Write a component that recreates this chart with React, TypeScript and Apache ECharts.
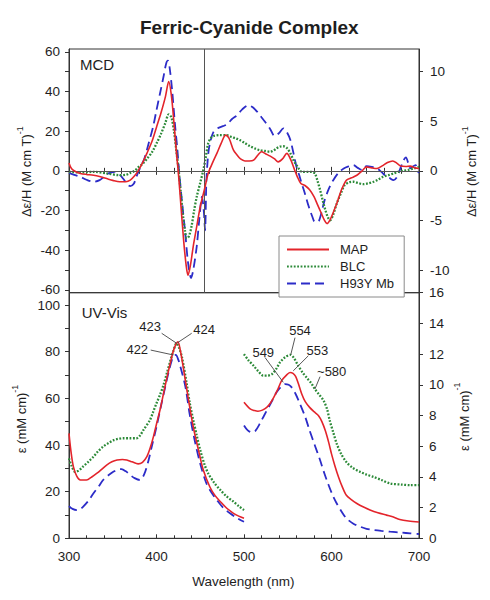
import React, { useEffect, useRef } from "react";
import * as echarts from "echarts";

// ---------- DATA ----------
const NAMES = ["MAP", "BLC", "H93Y Mb"];
const COLORS = ["#e3242b", "#2c8a38", "#2c2cc8"];

// MCD (left axis, Δε/H)
const MCD_MAP: [number, number][] = [
  [300, 4], [303, 1], [308, -0.5], [313, -1.3], [320, -1.8], [328, -2.2], [336, -3], [343, -3.9],
  [350, -4.8], [358, -5.5], [365, -5.5], [370, -4.7], [375, -2.5], [379, 0], [384, 4], [389, 8.8],
  [395, 15], [400, 22], [405, 29], [410, 37], [414, 45], [417, 38], [420, 24], [423, 8], [425, -1],
  [428, -18], [431, -35], [434, -48], [436, -52.6], [439, -47], [442, -38], [446, -28], [450, -18],
  [455, -9], [459, -1.3], [464, 4], [469, 8.8], [474, 14], [479, 18], [483, 16.3], [488, 10.4],
  [492, 8], [496, 6], [501, 5], [506, 5], [511, 5.4], [516, 8], [520, 9.6], [525, 8.5], [530, 7.4],
  [535, 6], [539, 4.5], [544, 6], [549, 8.8], [553, 6], [557, 1.5], [561, -3], [565, -6.4],
  [570, -7.5], [575, -9.5], [580, -13], [584, -17], [588, -21], [592, -25], [595, -26.6],
  [598, -25], [602, -21], [606, -16.5], [611, -10], [617, -4.7], [623, -3.5], [629, -2.2],
  [635, 0], [640, 2], [646, 1.5], [652, 1.2], [658, 2.5], [664, 4.2], [670, 5], [675, 3.8],
  [679, 2.4], [685, 2.2], [690, 2.4], [695, 1.6], [700, 1.2],
];
const MCD_BLC: [number, number][] = [
  [300, -0.5], [313, -0.8], [328, -0.5], [343, -1.3], [358, -2.2], [365, -2], [370, -1], [375, 0],
  [379, 1.7], [384, 3.5], [389, 6], [395, 9.5], [400, 13.8], [405, 18.5], [410, 24], [414, 28.5],
  [417, 27], [420, 20], [423, 9], [425, 1.7], [428, -12], [430, -21.5], [432.5, -30], [434.5, -34],
  [437, -33], [440, -28], [443, -20], [446, -13], [450, -6], [453.5, 0.4], [456, 6], [459, 13.8],
  [462, 16.5], [465, 17.5], [472, 18], [480, 18], [486, 17], [491, 16.3], [495, 15.5], [501, 14],
  [507, 12.4], [513, 11.2], [518, 10.4], [524, 10], [530, 9.6], [534, 10.3], [537, 11.3],
  [541, 12.2], [545, 12.4], [549, 11.5], [553, 8.8], [557, 5], [560, 2.9], [563, 0.8], [566, -0.5],
  [573, -0.5], [578, -0.6], [581, -1.3], [584, -5], [587, -9.7], [590, -15], [593, -19.8],
  [596, -23.5], [598.5, -24.9], [602, -22], [606, -16.5], [611, -11], [615, -7.2], [620, -5.8],
  [625, -5.5], [631, -6.2], [636, -6.7], [642, -6.3], [648, -5.5], [653, -4.5], [659, -3],
  [665, -2.2], [671, -1.3], [676, -0.5], [682, 0], [688, 0.5], [694, 1.2], [700, 2],
];
const MCD_H93Y: [number, number][] = [
  [300, -1], [306, -2], [313, -3], [320, -4.5], [328, -5.5], [335, -4.7], [340, -3], [345, -1.3],
  [352, -0.5], [357, -1.5], [362, -4], [367, -7], [370, -7.7], [374, -6.5], [377, -3], [381, 1.2],
  [386, 6], [391, 13.8], [396, 22], [400, 30.6], [404, 39], [408, 47.4], [411, 54], [413, 55.5],
  [415, 52], [418, 40], [421, 24], [424, 10], [426, -1.3], [429, -15], [433, -32], [436, -46],
  [439.5, -54], [442, -50], [446, -38], [449, -24], [452, -13], [454, -20], [455.5, -30], [457, -5],
  [459, 8], [461, 13.8], [465, 19.5], [470, 21.5], [476, 22.5], [481, 23.5], [486, 26], [492, 28],
  [498, 31], [505, 33], [510, 32], [515, 29.8], [520, 27], [524, 24.7], [530, 21], [535, 17.5],
  [540, 19], [545, 21.4], [549, 19.5], [553, 15.5], [557, 8], [560, 2], [563, -2], [566, -6.4],
  [570, -12], [574, -18], [578, -23], [581, -25.7], [585, -25.5], [588, -22], [592, -15],
  [597, -9], [602, -4.7], [608, -1], [614, 1.2], [620, 2.3], [625, 2.9], [630, 1.5], [635, 0.4],
  [640, 2.4], [646, 2], [652, 1.2], [657, -0.5], [661, -2.2], [666, -3.5], [671, -4.7], [675, -3],
  [678, 0.4], [682, 5], [685, 6.8], [688, 3.5], [690, 1.2], [693, 2.2], [696, 2.9], [699, -0.5],
  [700, -1],
];

// UV-Vis 300-500 nm (left axis, ε)
const UV_MAP: [number, number][] = [
  [300, 45], [302, 38], [305, 30.7], [309, 26.5], [313, 25], [320, 25], [326, 26.3], [332, 27.9],
  [338, 29.8], [343, 31.4], [349, 32.8], [355, 33.6], [361, 33.8], [366, 33.6], [372, 32.8],
  [379, 31.9], [384, 32.6], [389, 35], [393, 39], [396.5, 43.6], [400, 49], [404, 55], [408, 62],
  [412, 69], [416, 75.5], [419, 80], [422, 83], [424.5, 84.3], [427, 81], [430.5, 73.5],
  [436, 60.7], [442, 47.8], [448, 37.8], [453.5, 29.3], [461, 22], [467, 18.3], [473, 15.7],
  [480, 13], [488, 10.7], [494, 9.5], [500, 8.6],
];
const UV_BLC: [number, number][] = [
  [300, 34.3], [303, 31], [307, 28.5], [311, 29], [316, 30.7], [322, 32.8], [328, 35], [333, 37.2],
  [339, 39.3], [345, 40.8], [351, 42.1], [356, 42.6], [362, 42.9], [370, 42.9], [377, 42.9],
  [381, 44], [385, 46.4], [392.5, 50.7], [396, 54], [400, 57.9], [404, 61.5], [408, 65.7],
  [412, 71], [415.5, 75.7], [419, 80], [423, 83.6], [426, 81.5], [429, 77.8], [434.5, 66.4],
  [438, 58], [442, 50.7], [446, 44], [450, 37.8], [455, 31.5], [459, 27.9], [466, 23.8],
  [473, 20.7], [480, 18], [488, 15.7], [494, 13.8], [500, 12.1],
];
const UV_H93Y: [number, number][] = [
  [300, 13.8], [304, 12.6], [309, 12.1], [313, 12.6], [316, 13.5], [322, 16], [328, 19.3],
  [334, 22.3], [339, 25], [345, 27], [351, 28.6], [356, 29.5], [360, 29.7], [365, 28.7],
  [370, 27.1], [375, 25.8], [381, 25], [386, 27.5], [391, 33.6], [395, 40], [400, 47.8],
  [405, 56.5], [410, 65], [414, 71.5], [417.5, 76.4], [420, 78.4], [422, 78.6], [425, 76.5],
  [427, 74], [433, 65], [438, 53], [444, 41.4], [450, 32], [457, 23.6], [463, 19.5], [469, 16.4],
  [476, 13.2], [484, 10.7], [492, 8.7], [500, 7.1],
];

// UV-Vis 500-700 nm (right axis, ε)
const VIS_MAP: [number, number][] = [
  [500, 8.86], [507, 8.43], [512, 8.32], [516, 8.28], [521, 8.35], [526, 8.53], [530, 8.8],
  [534, 9.18], [539, 9.75], [543, 10.27], [548, 10.6], [552.6, 10.8], [556, 10.75], [559, 10.55],
  [562, 10.1], [566, 9.4], [570, 8.9], [575, 8.53], [580, 8.25], [585, 8.0], [589, 7.6], [593, 7.0],
  [597, 6.2], [600, 5.5], [604, 4.7], [608, 4.0], [612, 3.4], [617, 2.8], [623, 2.5], [629, 2.27],
  [636, 2.05], [644, 1.84], [653, 1.66], [663, 1.51], [670, 1.4], [678, 1.23], [688, 1.13],
  [700, 1.06],
];
const VIS_BLC: [number, number][] = [
  [500, 12.0], [505, 11.6], [511, 11.24], [516, 10.9], [522, 10.6], [527, 10.6], [532, 10.7],
  [537, 11.05], [541, 11.45], [547, 11.8], [553, 11.95], [557, 11.75], [562, 11.24], [567, 10.8],
  [572, 10.44], [577, 10.1], [581, 9.73], [586, 9.35], [591, 8.97], [595, 8.4], [598, 7.67],
  [602, 6.9], [606, 6.16], [611, 5.5], [617, 4.97], [624, 4.6], [633, 4.32], [640, 4.15],
  [648, 4.0], [657, 3.8], [667, 3.57], [680, 3.5], [690, 3.46], [700, 3.46],
];
const VIS_H93Y: [number, number][] = [
  [500, 7.35], [504, 7.05], [509, 6.9], [513, 7.0], [518, 7.46], [523, 8.0], [528, 8.53],
  [533, 9.05], [537, 9.5], [542, 9.85], [547, 10.05], [551, 10.0], [554.5, 9.83], [559, 9.4],
  [564, 8.75], [570, 7.9], [575, 7.02], [581, 6.05], [587, 5.08], [592, 4.2], [596, 3.57],
  [601, 2.85], [606, 2.27], [612, 1.7], [617, 1.3], [625, 0.95], [633, 0.75], [640, 0.62],
  [648, 0.54], [657, 0.48], [667, 0.43], [680, 0.37], [690, 0.32], [700, 0.28],
];

// Axis extents and tick labels
const X_RANGE = [300, 700];
const MCD_LEFT_RANGE = [-61.4, 61.4];
const MCD_RIGHT_RANGE = [-12.28, 12.28];
const UV_LEFT_RANGE = [0, 105.3];
const UV_RIGHT_RANGE = [0, 16];
const MCD_LEFT_LABELS = [-60, -40, -20, 0, 20, 40, 60];
const MCD_LEFT_TICKS = [-60, -50, -40, -30, -20, -10, 0, 10, 20, 30, 40, 50, 60];
const MCD_RIGHT_LABELS = [-10, -5, 0, 5, 10];
const UV_LEFT_LABELS = [0, 20, 40, 60, 80, 100];
const UV_LEFT_TICKS = [0, 10, 20, 30, 40, 50, 60, 70, 80, 90, 100];
const UV_RIGHT_LABELS = [0, 2, 4, 6, 8, 10, 12, 14, 16];
const ZERO_LINE = 0;
const DIVIDER_WL = 455;

// Peak callouts: text position and leader line in data coordinates
const CALLOUTS = [
  { text: "423", axis: "left", tx: 392.6, ty: 90.7, x1: 405.9, y1: 87.9, x2: 423.1, y2: 83.6 },
  { text: "424", axis: "left", tx: 454.3, ty: 89.6, x1: 440.2, y1: 87.9, x2: 423.8, y2: 83.8 },
  { text: "422", axis: "left", tx: 378, ty: 81, x1: 393.4, y1: 80.7, x2: 419.2, y2: 78.6 },
  { text: "554", axis: "right", tx: 564, ty: 13.55, x1: 558.3, y1: 13.07, x2: 553.4, y2: 11.95 },
  { text: "549", axis: "right", tx: 522, ty: 12.1, x1: 524, y1: 11.78, x2: 544.9, y2: 10.16 },
  { text: "553", axis: "right", tx: 583.8, ty: 12.21, x1: 573.5, y1: 11.89, x2: 556.3, y2: 10.91 },
  { text: "~580", axis: "right", tx: 600.2, ty: 10.85, x1: 586.9, y1: 10.53, x2: 581.1, y2: 9.73 },
];

// ---------- CHART ----------
const FONT = "'Liberation Sans', Arial, Helvetica, sans-serif";
const TXT = "#1e1e1e";
const AX = "#333";

const LINE_STYLES: any[] = [
  { color: COLORS[0], width: 1.6, type: "solid" },
  { color: COLORS[1], width: 2.3, type: [1.8, 1.6], cap: "butt" },
  { color: COLORS[2], width: 1.8, type: [9, 5], cap: "butt" },
];

function mkSeries(name: string, idx: number, data: [number, number][], xi: number, yi: number, extra: any = {}) {
  return {
    type: "line",
    name,
    data,
    xAxisIndex: xi,
    yAxisIndex: yi,
    smooth: 0.3,
    symbol: "none",
    showSymbol: false,
    lineStyle: LINE_STYLES[idx],
    itemStyle: { color: COLORS[idx] },
    z: 3 + (2 - idx),
    ...extra,
  };
}

function xAxisBase(gridIndex: number, position: string, showLabel: boolean) {
  return {
    type: "value",
    gridIndex,
    position,
    min: X_RANGE[0],
    max: X_RANGE[1],
    interval: 100,
    axisLine: { show: true, lineStyle: { color: AX, width: 1 } },
    axisTick: { show: true, inside: true, length: 4, lineStyle: { color: AX } },
    minorTick: { show: true, splitNumber: 5, length: 3, lineStyle: { color: AX } },
    splitLine: { show: false },
    axisLabel: { show: showLabel, fontSize: 13.5, color: TXT, fontFamily: FONT, margin: 11 },
  };
}

function yAxisBase(gridIndex: number, position: string, range: number[], labels: number[], ticks: number[], margin: number) {
  return {
    type: "value",
    gridIndex,
    position,
    min: range[0],
    max: range[1],
    axisLine: { show: true, lineStyle: { color: AX, width: 1 } },
    axisTick: { show: true, inside: false, length: 4, customValues: ticks, lineStyle: { color: AX } },
    splitLine: { show: false },
    axisLabel: { show: true, customValues: labels, fontSize: 13.5, color: TXT, fontFamily: FONT, margin },
  };
}

function rotatedTitle(x: number, y: number, main: string) {
  return {
    type: "text",
    x,
    y,
    rotation: Math.PI / 2,
    style: {
      text: `{m|${main}}{s|-1}`,
      align: "center",
      verticalAlign: "middle",
      fill: TXT,
      fontFamily: FONT,
      rich: {
        m: { fontSize: 13, lineHeight: 18, verticalAlign: "bottom", fill: TXT, fontFamily: FONT },
        s: { fontSize: 9, lineHeight: 10, verticalAlign: "top", fill: TXT, fontFamily: FONT },
      },
    },
  };
}

export default function App() {
  const ref = useRef<HTMLDivElement>(null);
  useEffect(() => {
    const el = ref.current;
    if (!el) return;
    const chart = echarts.init(el, null, { renderer: "svg" });

    const option: any = {
      animation: false,
      backgroundColor: "#fff",
      textStyle: { fontFamily: FONT },
      grid: [
        { left: 69, top: 49, width: 350, height: 243.7, show: true, borderColor: AX, borderWidth: 1, backgroundColor: "transparent" },
        { left: 69, top: 292.7, width: 350, height: 245.6, show: true, borderColor: AX, borderWidth: 1, backgroundColor: "transparent" },
      ],
      xAxis: [xAxisBase(0, "bottom", false), xAxisBase(0, "top", false), xAxisBase(1, "bottom", true)],
      yAxis: [
        yAxisBase(0, "left", MCD_LEFT_RANGE, MCD_LEFT_LABELS, MCD_LEFT_TICKS, 9),
        yAxisBase(0, "right", MCD_RIGHT_RANGE, MCD_RIGHT_LABELS, MCD_RIGHT_LABELS, 11),
        yAxisBase(1, "left", UV_LEFT_RANGE, UV_LEFT_LABELS, UV_LEFT_TICKS, 9),
        yAxisBase(1, "right", UV_RIGHT_RANGE, UV_RIGHT_LABELS, UV_RIGHT_LABELS, 10),
      ],
      legend: {
        data: NAMES,
        orient: "vertical",
        left: 279,
        top: 236,
        itemWidth: 42,
        itemHeight: 14,
        itemGap: 4,
        padding: [7, 10, 7, 7],
        backgroundColor: "#fff",
        borderColor: "#8a8a8a",
        borderWidth: 1,
        borderRadius: 0,
        itemStyle: { opacity: 0 },
        textStyle: { fontSize: 13, color: TXT, fontFamily: FONT, padding: [0, 0, 0, 6] },
        z: 20,
      },
      series: [
        mkSeries(NAMES[0], 0, MCD_MAP, 0, 0, {
          markLine: {
            silent: true,
            symbol: "none",
            label: { show: false },
            lineStyle: { color: "#555", width: 1, type: "solid" },
            data: [{ yAxis: ZERO_LINE }, { xAxis: DIVIDER_WL }],
          },
        }),
        mkSeries(NAMES[1], 1, MCD_BLC, 0, 0),
        mkSeries(NAMES[2], 2, MCD_H93Y, 0, 0),
        mkSeries(NAMES[0], 0, UV_MAP, 2, 2),
        mkSeries(NAMES[1], 1, UV_BLC, 2, 2),
        mkSeries(NAMES[2], 2, UV_H93Y, 2, 2),
        mkSeries(NAMES[0], 0, VIS_MAP, 2, 3),
        mkSeries(NAMES[1], 1, VIS_BLC, 2, 3),
        mkSeries(NAMES[2], 2, VIS_H93Y, 2, 3),
      ],
    };
    chart.setOption(option);

    const graphics: any[] = [
      {
        type: "text",
        x: 249.3,
        y: 27.3,
        style: { text: "Ferric-Cyanide Complex", fontSize: 19, fontWeight: "bold", fill: TXT, fontFamily: FONT, align: "center", verticalAlign: "middle" },
      },
      { type: "text", x: 80, y: 64, style: { text: "MCD", fontSize: 15, fill: TXT, fontFamily: FONT, align: "left", verticalAlign: "middle" } },
      { type: "text", x: 81.7, y: 312.7, style: { text: "UV-Vis", fontSize: 15, fill: TXT, fontFamily: FONT, align: "left", verticalAlign: "middle" } },
      { type: "text", x: 243.3, y: 581, style: { text: "Wavelength (nm)", fontSize: 13.5, fill: TXT, fontFamily: FONT, align: "center", verticalAlign: "middle" } },
      rotatedTitle(24.2, 171.7, "Δε/H (M cm T)"),
      rotatedTitle(469.2, 171.7, "Δε/H (M cm T)"),
      rotatedTitle(19.2, 419, "ε (mM cm)"),
      rotatedTitle(461.5, 416.7, "ε (mM cm)"),
    ];

    CALLOUTS.forEach((c) => {
      const finder = { xAxisIndex: 2, yAxisIndex: c.axis === "left" ? 2 : 3 };
      const t = chart.convertToPixel(finder as any, [c.tx, c.ty]) as number[];
      const p1 = chart.convertToPixel(finder as any, [c.x1, c.y1]) as number[];
      const p2 = chart.convertToPixel(finder as any, [c.x2, c.y2]) as number[];
      if (!t || !p1 || !p2) return;
      graphics.push({
        type: "line",
        shape: { x1: p1[0], y1: p1[1], x2: p2[0], y2: p2[1] },
        style: { stroke: "#444", lineWidth: 0.9 },
        z: 30,
      });
      graphics.push({
        type: "text",
        x: t[0],
        y: t[1],
        style: { text: c.text, fontSize: 13, fill: TXT, fontFamily: FONT, align: "center", verticalAlign: "middle" },
        z: 30,
      });
    });

    chart.setOption({ graphic: graphics });
    return () => chart.dispose();
  }, []);
  return <div ref={ref} style={{ position: "absolute", left: 0, top: 0, width: 490, height: 600 }} />;
}
